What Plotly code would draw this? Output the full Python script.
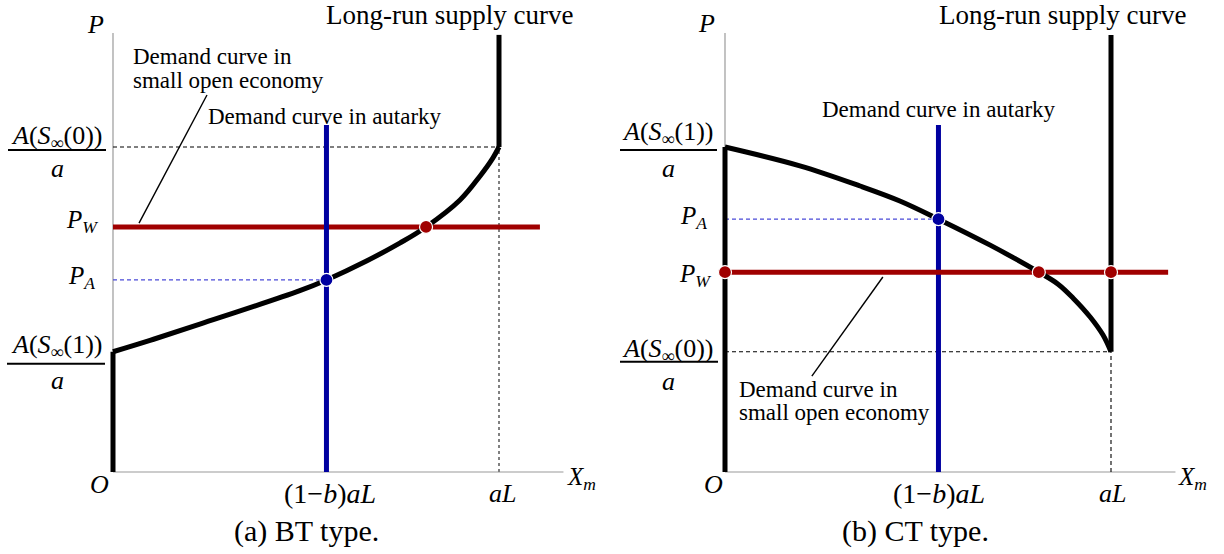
import plotly.graph_objects as go

# ---------------- shared quantities (aL = 1) ----------------
x_autarky = 0.553          # (1-b)aL : autarky demand
x_full = 1.0               # aL
x_axis_end = 1.167
p_axis_top = 1.351
supply_top = 1.345
autarky_demand_top = 1.068
p_low = 0.37               # lower long-run price level
p_high = 1.0               # upper long-run price level

# ---------------- (a) BT type ----------------
bt_pw = 0.754
bt_pa = 0.591
bt_world_end = 1.106
bt_cross_x = 0.811
bt_curve_x = [0.0, 0.096, 0.225, 0.484, 0.553, 0.658, 0.744, 0.811, 0.899, 0.951, 0.984, 1.0]
bt_curve_y = [0.37, 0.405, 0.455, 0.558, 0.591, 0.650, 0.705, 0.754, 0.837, 0.911, 0.966, 1.0]

# ---------------- (b) CT type ----------------
ct_pw = 0.615
ct_pa = 0.778
ct_world_end = 1.148
ct_cross_x = 0.813
ct_curve_x = [0.0, 0.194, 0.350, 0.453, 0.553, 0.687, 0.813, 0.863, 0.902, 0.946, 0.979, 1.0]
ct_curve_y = [1.0, 0.942, 0.880, 0.834, 0.778, 0.698, 0.615, 0.578, 0.535, 0.477, 0.422, 0.37]

BLACK = "#000000"
BLUE = "#0000a0"
RED = "#a00000"
AXIS = "#9a9a9a"
SERIF = "Liberation Serif, Times New Roman, Times, serif"

fig = go.Figure()


def line(x, y, ax, color, width, dash=None, shape="linear"):
    fig.add_trace(go.Scatter(
        x=x, y=y, mode="lines", xaxis=ax[0], yaxis=ax[1],
        line=dict(color=color, width=width, dash=dash, shape=shape),
        hoverinfo="skip", showlegend=False))


def dots(x, y, ax, color):
    fig.add_trace(go.Scatter(
        x=x, y=y, mode="markers", xaxis=ax[0], yaxis=ax[1],
        marker=dict(color=color, size=13, line=dict(color="white", width=1.2)),
        hoverinfo="skip", showlegend=False))


def text(ax, x, y, s, dx=0, dy=0, size=22, xanchor="center"):
    fig.add_annotation(
        x=x, y=y, xref=ax[0], yref=ax[1], text=s, showarrow=False,
        xshift=dx, yshift=dy, xanchor=xanchor, yanchor="middle",
        font=dict(family=SERIF, size=size, color=BLACK))


def two_lines(ax, x, y, lines, dx, dy_first, gap=24, size=23):
    for i, s in enumerate(lines):
        text(ax, x, y, s, dx=dx, dy=dy_first - i * gap, size=size, xanchor="left")


def fraction(ax, value, numer, numer_dy, bar_dy, denom_dy, dx=-56, bar=(-105, -7)):
    text(ax, 0, value, numer, dx=dx, dy=numer_dy, size=26)
    text(ax, 0, value, "<i>a</i>", dx=dx, dy=denom_dy, size=26)
    fig.add_shape(type="line", xref=ax[0], yref=ax[1],
                  xsizemode="pixel", ysizemode="pixel",
                  xanchor=0, yanchor=value,
                  x0=bar[0], x1=bar[1], y0=bar_dy, y1=bar_dy,
                  line=dict(color=BLACK, width=2))


S0 = "<i>A</i>(<i>S</i><sub>∞</sub>(0))"
S1 = "<i>A</i>(<i>S</i><sub>∞</sub>(1))"
PW = "<i>P</i><sub><i>W</i></sub>"
PA = "<i>P</i><sub><i>A</i></sub>"
XM = "<i>X</i><sub><i>m</i></sub>"
AUT = "(1−<i>b</i>)<i>aL</i>"
AL = "<i>aL</i>"
DEMAND_OPEN = ["Demand curve in", "small open economy"]
DEMAND_AUT = "Demand curve in autarky"
SUPPLY = "Long-run supply curve"

# ============ panel (a): BT type ============
A = ("x", "y")
line([0, x_axis_end], [0, 0], A, AXIS, 1.2)
line([0, 0], [0, p_axis_top], A, AXIS, 1.2)
line([0, x_full], [p_high, p_high], A, BLACK, 1.1, dash="4px,3px")
line([x_full, x_full], [0, p_high], A, "#808080", 2, dash="3px,3px")
line([0, x_autarky], [bt_pa, bt_pa], A, "#4a4ad8", 1.2, dash="4px,3px")
line([0, bt_world_end], [bt_pw, bt_pw], A, RED, 5)
line([x_autarky, x_autarky], [0, autarky_demand_top], A, BLUE, 5)
line([0, 0], [0, p_low], A, BLACK, 5)
line(bt_curve_x, bt_curve_y, A, BLACK, 5, shape="spline")
line([x_full, x_full], [p_high, supply_top], A, BLACK, 5)
line([0.2435, 0.0674], [1.160, 0.766], A, BLACK, 1.4)
dots([bt_cross_x], [bt_pw], A, RED)
dots([x_autarky], [bt_pa], A, BLUE)

text(A, 0, p_axis_top, "<i>P</i>", dx=-18, dy=8, size=26)
text(A, x_full, supply_top, SUPPLY, dx=-50, dy=20, size=27)
two_lines(A, 0, p_axis_top, DEMAND_OPEN, dx=18, dy_first=-24)
text(A, x_autarky, autarky_demand_top, DEMAND_AUT, dx=-1, dy=8, size=23)
fraction(A, p_high, S0, 10, -3, -21)
fraction(A, p_low, S1, 6, -12, -29, bar=(-106, -8))
text(A, 0, bt_pw, PW, dx=-31, dy=5, size=25)
text(A, 0, bt_pa, PA, dx=-32, dy=2, size=25)
text(A, 0, 0, "<i>O</i>", dx=-14, dy=-12, size=26)
text(A, x_autarky, 0, AUT, dx=4, dy=-21, size=28)
text(A, x_full, 0, AL, dx=3, dy=-21, size=26)
text(A, x_axis_end, 0, XM, dx=18, dy=-6, size=25)

# ============ panel (b): CT type ============
B = ("x2", "y2")
line([0, x_axis_end], [0, 0], B, AXIS, 1.2)
line([0, 0], [0, p_axis_top], B, AXIS, 1.2)
line([0, x_full], [p_low, p_low], B, BLACK, 1.1, dash="4px,3px")
line([x_full, x_full], [0, p_low], B, BLACK, 1.1, dash="4px,3px")
line([0, x_autarky], [ct_pa, ct_pa], B, "#4a4ad8", 1.2, dash="4px,3px")
line([x_autarky, x_autarky], [0, autarky_demand_top], B, BLUE, 5)
line([0, ct_world_end], [ct_pw, ct_pw], B, RED, 5)
line([0, 0], [0, p_high], B, BLACK, 5)
line(ct_curve_x, ct_curve_y, B, BLACK, 5, shape="spline")
line([x_full, x_full], [p_low, supply_top], B, BLACK, 5)
line([0.409, 0.225], [0.600, 0.295], B, BLACK, 1.4)
dots([0, ct_cross_x, x_full], [ct_pw] * 3, B, RED)
dots([x_autarky], [ct_pa], B, BLUE)

text(B, 0, p_axis_top, "<i>P</i>", dx=-19, dy=9, size=26)
text(B, x_full, supply_top, SUPPLY, dx=-49, dy=20, size=27)
text(B, x_autarky, autarky_demand_top, DEMAND_AUT, dx=1, dy=15, size=23)
two_lines(B, 0, 0, DEMAND_OPEN, dx=12, dy_first=83, gap=23)
fraction(B, p_high, S1, 14, -3, -21, dx=-57, bar=(-105, -8))
fraction(B, p_low, S0, 2, -10, -30, dx=-57, bar=(-105, -7))
text(B, 0, ct_pa, PA, dx=-32, dy=2, size=25)
text(B, 0, ct_pw, PW, dx=-30, dy=-3, size=25)
text(B, 0, 0, "<i>O</i>", dx=-12, dy=-12, size=26)
text(B, x_autarky, 0, AUT, dx=1, dy=-21, size=28)
text(B, x_full, 0, AL, dx=1, dy=-21, size=26)
text(B, x_axis_end, 0, XM, dx=17, dy=-6, size=25)

# captions
for cx, cap in [(0.25, "(a) BT type."), (0.748, "(b) CT type.")]:
    fig.add_annotation(x=cx, y=1 - 531 / 554, xref="paper", yref="paper",
                       text=cap, showarrow=False, xanchor="center", yanchor="middle",
                       font=dict(family=SERIF, size=30, color=BLACK))

# axis scales: 386 px per unit of quantity, 325 px per unit of price
W, H = 1224, 554
PX_X, PX_Y = 386.0, 325.0
ORIGIN_Y = 472
hidden = dict(visible=False, showgrid=False, zeroline=False, fixedrange=True)
fig.update_layout(
    width=W, height=H,
    margin=dict(l=0, r=0, t=0, b=0),
    paper_bgcolor="white", plot_bgcolor="white",
    xaxis=dict(domain=[0, 0.5], range=[-113 / PX_X, (612 - 113) / PX_X], **hidden),
    xaxis2=dict(domain=[0.5, 1], anchor="y2",
                range=[-(725 - 612) / PX_X, (W - 725) / PX_X], **hidden),
    yaxis=dict(domain=[0, 1], range=[(ORIGIN_Y - H) / PX_Y, ORIGIN_Y / PX_Y], **hidden),
    yaxis2=dict(domain=[0, 1], anchor="x2",
                range=[(ORIGIN_Y - H) / PX_Y, ORIGIN_Y / PX_Y], **hidden),
    showlegend=False,
)

fig.write_html("out.html")
